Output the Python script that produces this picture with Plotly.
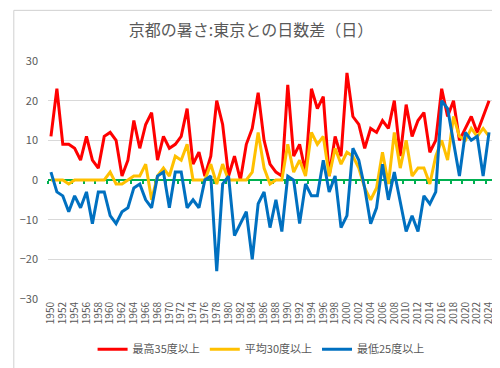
import plotly.graph_objects as go

years = list(range(1950, 2025))
max35 = [11, 23, 9, 9, 8, 5, 11, 5, 3, 11, 12, 10, 1, 5, 15, 8, 14, 17, 5, 11,
         8, 9, 11, 18, 4, 7, 1, 6, 20, 14, 1, 6, 0, 9, 13, 22, 10, 4, 2, 1,
         24, 6, 9, 2, 23, 18, 21, 1, 11, 6, 27, 16, 14, 8, 13, 12, 15, 13, 20, 6,
         19, 11, 15, 17, 7, 10, 23, 16, 20, 10, 13, 16, 12, 16, 20]
avg30 = [0, 0, 0, -1, 0, 0, 0, 0, 0, 0, 2, -1, -1, 0, 1, 1, 4, -5, 1, 3,
         1, 6, 5, 9, 0, 0, 0, 4, -1, 4, 0, 0, 0, 0, 2, 12, 3, -1, 0, 0,
         9, 2, 5, 1, 12, 9, 11, 1, 8, 4, 7, 6, 3, -2, -5, -2, 7, -1, 12, 3,
         10, 1, 3, 3, -1, 6, 10, 5, 16, 11, 10, 13, 11, 13, 11]
min25 = [2, -3, -4, -8, -4, -7, -3, -11, -3, -3, -9, -11, -8, -7, -2, -1, -5, -7, 1, 2,
         -7, 2, 2, -7, -5, -7, 0, 1, -23, -1, 1, -14, -11, -8, -20, -6, -3, -12, -5, -13,
         1, 0, -11, -1, -4, -4, 5, -3, 1, -12, -9, 8, 5, -2, -11, -7, 4, -5, 2, -6,
         -13, -9, -13, -4, -6, -3, 20, 18, 10, 1, 12, 10, 11, 1, 12]
series_names = ["最高35度以上", "平均30度以上", "最低25度以上"]
series_colors = ["#FF0000", "#FFC000", "#0070C0"]
title_text = "京都の暑さ:東京との日数差（日）"
xlabels = [str(y) for y in years]

FONT = "Noto Sans CJK JP"
GRAY = "#595959"

fig = go.Figure()
for name, vals, col in zip(series_names, [max35, avg30, min25], series_colors):
    fig.add_trace(go.Scatter(x=xlabels, y=vals, mode="lines", name=name,
                             line=dict(color=col, width=3)))

# invisible trace to keep the zero-line axis alive
fig.add_trace(go.Scatter(x=[-0.5, 74.5], y=[0, 0], xaxis="x2", mode="lines",
                         line=dict(color="rgba(0,0,0,0)", width=0),
                         showlegend=False, hoverinfo="skip"))

L, R, T, B = 36, 484, 53, 295
W, H = 500, 368
def px(x):
    return (x - L) / (R - L)
def py(y):
    return (B - y) / (B - T)

fig.update_layout(
    width=W, height=H,
    margin=dict(l=L, r=W - R, t=T, b=H - B),
    paper_bgcolor="white", plot_bgcolor="white",
    font=dict(family=FONT, color=GRAY),
    title=dict(text=title_text, x=0.486, xanchor="center", y=1 - 22 / H, yanchor="middle",
               font=dict(size=16, color=GRAY, family=FONT)),
    xaxis=dict(type="category", tickangle=-90, showgrid=False, showline=False, zeroline=False,
               ticks="", tickmode="array", tickvals=xlabels[::2], ticktext=xlabels[::2],
               tickfont=dict(size=10, color=GRAY), range=[-0.5, 74.5]),
    xaxis2=dict(overlaying="x", anchor="free", position=0.5, range=[-0.5, 74.5],
                showline=True, linecolor="#00B050", linewidth=2, showgrid=False,
                zeroline=False, showticklabels=False, ticks="outside", ticklen=3,
                tickwidth=2, tickcolor="#00B050", tick0=-0.5, dtick=2,
                layer="below traces"),
    yaxis=dict(range=[-30, 30], dtick=10, showgrid=True, gridcolor="#D9D9D9", gridwidth=1,
               zeroline=False, showline=False, ticks="", tickfont=dict(size=11, color=GRAY),
               ticklabelstandoff=9),
    legend=dict(orientation="h", x=px(251), xanchor="center", y=py(346), yanchor="middle",
                font=dict(size=11, color=GRAY, family=FONT), itemwidth=30,
                tracegroupgap=0),
    showlegend=True,
)

fig.add_shape(type="rect", xref="paper", yref="paper",
              x0=px(1.5), x1=px(498.5), y0=py(366.5), y1=py(1.5),
              line=dict(color="#D0D0D0", width=1), fillcolor="rgba(0,0,0,0)", layer="below")

fig.write_html("out.html")
